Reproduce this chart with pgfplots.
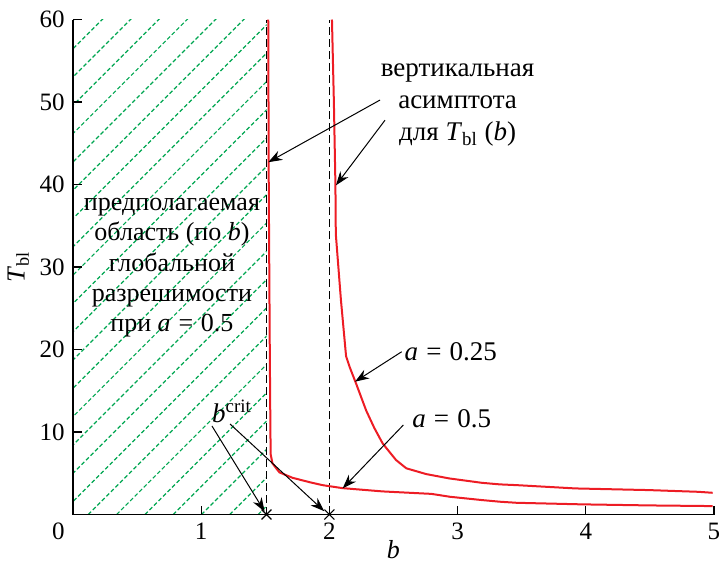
\documentclass[border=0pt]{standalone}
\usepackage{fontspec}
\setmainfont{LiberationSerif}[Extension=.ttf, UprightFont=*-Regular, ItalicFont=*-Italic, BoldFont=*-Bold, BoldItalicFont=*-BoldItalic]
\usepackage{pgfplots}
\pgfplotsset{compat=1.18}
\usetikzlibrary{arrows.meta}
\definecolor{hatchgreen}{RGB}{0,166,81}
\definecolor{curvered}{RGB}{237,28,36}
\newcommand{\eq}{\hspace{0.3em}=\hspace{0.3em}}
\begin{document}
\fontsize{12}{15}\selectfont
\begin{tikzpicture}
% hatching of the region b < b^crit (decoration)
\begin{scope}
\clip (0,0) rectangle (96.8pt,247.5pt);
\foreach \k in {-18,...,6} {
  \draw[hatchgreen, line width=0.6pt, dash pattern=on 2pt off 1.2pt] ({7.65pt+14.15pt*\k},0) -- ++(260pt,260pt);
}
\end{scope}
\begin{axis}[
  scale only axis, width=320.5pt, height=247.5pt,
  xmin=0, xmax=5, ymin=0, ymax=60,
  clip=false,
  axis x line*=bottom, axis y line*=left,
  axis line style={line width=0.6pt, -},
  tick align=inside, major tick length=4.5pt,
  tick style={line width=0.6pt, black},
  xtick={1,2,3,4,5}, ytick={10,20,30,40,50,60},
  /pgf/number format/assume math mode=true,
  tick label style={font=\fontsize{12.5}{14}\selectfont},
  xlabel={\textit{b}}, ylabel={\textit{T}\textsubscript{bl}},
  xlabel style={at={(axis description cs:0.5,-0.0717)}, anchor=center, font=\fontsize{13}{14}\selectfont},
  ylabel style={at={(axis description cs:-0.0853,0.5)}, anchor=center, font=\fontsize{13}{14}\selectfont},
]
% vertical asymptotes
\addplot[black, line width=0.5pt, dash pattern=on 4pt off 2pt] coordinates {(1.51,0) (1.51,60)};
\addplot[black, line width=0.5pt, dash pattern=on 4pt off 2pt] coordinates {(2,0) (2,60)};
% a = 0.5
\addplot[curvered, line width=1pt] coordinates {
(1.523,60) (1.527,40) (1.535,20) (1.540,10) (1.542,7.3) (1.556,6.2) (1.585,5.6) (1.611,5.1) (1.712,4.45) (1.85,3.9) (1.946,3.56) (2.10,3.2) (2.414,2.8) (2.796,2.5) (2.94,2.15) (3.19,1.75) (3.33,1.55) (3.46,1.42) (3.97,1.23) (4.5,1.1) (4.99,1.02)
};
% a = 0.25
\addplot[curvered, line width=1pt] coordinates {
(2.02,60) (2.035,50) (2.047,40) (2.05,34) (2.09,26) (2.13,19.2) (2.16,17.8) (2.21,15.8) (2.287,12.6) (2.35,10.5) (2.416,8.6) (2.52,6.6) (2.6,5.6) (2.755,4.9) (2.936,4.37) (3.19,3.84) (3.33,3.65) (3.46,3.56) (3.92,3.16) (4.49,2.96) (4.88,2.75) (4.99,2.63)
};
% b^crit marks
\addplot[only marks, black, mark=x, mark size=3.5pt, mark options={line width=0.6pt}] coordinates {(1.51,0) (2,0)};

% origin label
\node[anchor=north, font=\fontsize{12.5}{14}\selectfont, xshift=-7.35pt] at (axis cs:0,0) {0};

% annotations
\node[align=center, font=\fontsize{13.5}{16}\selectfont] at (axis cs:3.0,49.6) {вертикальная\\асимптота\\для \textit{T}\textsubscript{bl} (\textit{b})};
\draw[-{Stealth[length=7pt,width=5pt]}, line width=0.5pt] (axis cs:2.395,50.24) -- (axis cs:1.523,42.7);
\draw[-{Stealth[length=7pt,width=5pt]}, line width=0.5pt] (axis cs:2.434,47.8) -- (axis cs:2.051,39.9);

\node[font=\fontsize{13.5}{15}\selectfont] at (axis cs:2.947,19.73) {\textit{a}\eq 0.25};
\draw[-{Stealth[length=7pt,width=5pt]}, line width=0.5pt] (axis cs:2.564,19.73) -- (axis cs:2.2,16.1);

\node[font=\fontsize{13.5}{15}\selectfont] at (axis cs:2.954,11.66) {\textit{a}\eq 0.5};
\draw[-{Stealth[length=7pt,width=5pt]}, line width=0.5pt] (axis cs:2.577,10.85) -- (axis cs:2.104,3.18);

\node[font=\fontsize{13.5}{15}\selectfont] at (axis cs:1.24,12.5) {\textit{b}\textsuperscript{crit}};
\draw[-{Stealth[length=7pt,width=5pt]}, line width=0.5pt] (axis cs:1.084,10.73) -- (axis cs:1.495,0.35);
\draw[-{Stealth[length=7pt,width=5pt]}, line width=0.5pt] (axis cs:1.225,10.97) -- (axis cs:1.96,0.4);

\node[align=center, font=\fontsize{13}{15.2}\selectfont] at (axis cs:0.772,29.9) {предполагаемая\\область (по \textit{b})\\глобальной\\разрешимости\\при \textit{a}\eq 0.5};
\end{axis}
\pgfresetboundingbox
\useasboundingbox (-36.5pt,-24.75pt) rectangle (323pt,257.25pt);
\end{tikzpicture}
\end{document}
